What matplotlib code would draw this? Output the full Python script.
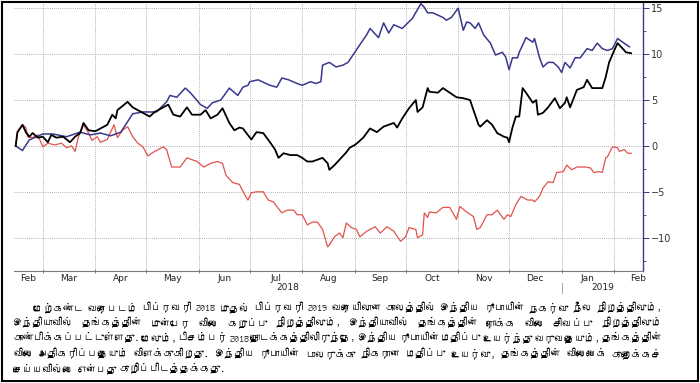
import matplotlib
matplotlib.use("Agg")
import matplotlib.pyplot as plt
from matplotlib import font_manager
from matplotlib.patches import Rectangle
from matplotlib.transforms import IdentityTransform
import pandas as pd

# x data are days counted from the first trading day shown
start = pd.Timestamp("2018-02-13")

# Indian rupee (blue)
rupee_days = [0, 4, 8, 16, 22, 30, 38, 44, 50, 56,
              62, 69, 75, 83, 89, 91, 95, 100, 103, 109,
              113, 116, 121, 126, 131, 134, 137, 138, 143, 150,
              154, 157, 161, 166, 169, 174, 177, 180, 181, 185,
              189, 193, 196, 200, 204, 207, 209, 211, 214, 217,
              220, 223, 228, 234, 239, 241, 243, 246, 252, 254,
              257, 261, 264, 266, 268, 271, 273, 276, 280, 283,
              287, 289, 291, 293, 296, 297, 301, 305, 306, 309,
              311, 314, 317, 320, 322, 324, 327, 330, 333, 337,
              340, 343, 346, 349, 352, 355, 358, 362]
rupee_vals = [0, -0.5, 0.65, 1.3, 1.3, 1.0, 1.5, 1.2, 1.4, 1.1,
              1.5, 3.5, 3.7, 3.7, 4.8, 5.5, 5.3, 6.3, 5.8, 4.5,
              4.1, 4.7, 5.0, 6.3, 5.5, 6.4, 6.6, 7.0, 7.2, 6.6,
              6.4, 7.4, 7.2, 6.8, 6.6, 7.0, 6.8, 7.0, 8.8, 9.1,
              8.6, 8.8, 9.1, 10.2, 11.3, 12.1, 12.8, 12.4, 11.8, 13.4,
              12.3, 13.2, 12.8, 13.9, 15.5, 15.1, 14.5, 14.5, 14.0, 13.7,
              14.0, 15.0, 12.6, 13.5, 13.4, 12.8, 13.4, 12.1, 11.2, 9.9,
              10.2, 9.7, 8.3, 9.6, 9.6, 10.2, 11.8, 11.3, 11.7, 9.6,
              8.6, 9.1, 9.1, 8.6, 8.0, 9.1, 8.5, 9.6, 9.6, 10.6,
              10.4, 11.2, 10.6, 10.4, 10.6, 11.7, 11.3, 10.8]

# gold futures price (black)
futures_days = [0, 1, 4, 6, 8, 10, 13, 16, 19, 21,
                24, 28, 32, 35, 38, 40, 43, 47, 50, 54,
                57, 59, 60, 66, 69, 72, 75, 79, 82, 86,
                90, 93, 97, 101, 104, 109, 112, 115, 119, 122,
                126, 129, 132, 134, 139, 142, 146, 150, 153, 155,
                158, 162, 166, 169, 172, 175, 178, 181, 184, 185,
                188, 191, 195, 197, 200, 202, 205, 209, 213, 217,
                223, 225, 228, 232, 236, 237, 240, 243, 244, 249,
                252, 256, 260, 264, 268, 270, 273, 274, 278, 281,
                284, 286, 288, 290, 291, 293, 295, 297, 299, 301,
                305, 307, 308, 311, 314, 318, 321, 324, 325, 327,
                331, 335, 337, 340, 346, 348, 350, 353, 355, 357,
                360, 363]
futures_vals = [0, 1.5, 2.3, 1.5, 1.0, 1.4, 0.9, 1.0, 0.4, 1.2,
                0.9, 1.0, 0.4, 1.0, 1.4, 2.5, 1.7, 1.6, 1.9, 2.3,
                3.4, 3.0, 3.9, 4.8, 4.2, 3.9, 3.6, 3.2, 3.7, 4.1,
                4.5, 3.4, 3.2, 4.2, 3.4, 3.4, 3.9, 3.0, 3.4, 4.1,
                2.5, 1.7, 2.0, 1.9, 0.7, 1.5, 1.4, 0.4, -0.4, -1.3,
                -0.8, -1.0, -1.0, -1.3, -1.7, -1.7, -1.5, -1.3, -1.9, -2.6,
                -2.1, -1.5, -0.7, -0.2, 0.1, 0.4, 0.9, 1.9, 1.5, 2.1,
                2.5, 2.0, 3.0, 4.1, 5.0, 3.7, 4.2, 6.3, 5.9, 5.8,
                6.3, 5.8, 5.3, 5.2, 5.0, 3.9, 2.3, 2.1, 2.8, 2.3,
                1.4, 1.2, 1.0, 0.9, 0.4, 2.0, 3.2, 3.2, 6.3, 5.8,
                4.7, 5.0, 3.4, 3.6, 4.2, 5.2, 4.1, 4.7, 5.3, 4.2,
                6.1, 6.4, 7.2, 6.3, 6.3, 7.5, 9.1, 10.4, 11.2, 10.8,
                10.2, 10.1]

# gold spot price (red)
spot_days = [0, 1, 4, 6, 7, 10, 13, 16, 19, 23,
             27, 30, 33, 35, 37, 40, 43, 45, 48, 50,
             54, 58, 60, 63, 66, 69, 72, 75, 78, 81,
             87, 89, 92, 97, 101, 107, 111, 115, 119, 122,
             124, 128, 132, 135, 137, 139, 142, 146, 149, 152,
             154, 157, 160, 164, 166, 169, 172, 175, 178, 181,
             184, 185, 188, 191, 193, 195, 198, 201, 203, 207,
             212, 215, 219, 223, 227, 230, 232, 236, 237, 240,
             241, 243, 244, 248, 252, 256, 260, 262, 266, 270,
             272, 274, 278, 281, 284, 286, 288, 290, 292, 295,
             298, 302, 305, 306, 309, 311, 314, 317, 319, 323,
             325, 328, 331, 336, 339, 341, 344, 346, 348, 349,
             352, 355, 356, 359, 361, 363]
spot_vals = [0, 1.4, 2.3, 2.0, 1.0, 0.9, 1.2, -0.1, 0.3, 0.1,
             0.3, -0.2, 0.0, -0.6, 1.0, 2.3, 1.4, 0.6, 1.0, 0.4,
             0.7, 2.3, 0.9, 1.7, 2.1, 1.0, 0.3, -0.1, -1.1, -0.7,
             -0.1, -0.4, -2.3, -2.3, -1.3, -1.7, -2.3, -1.9, -1.7, -1.9,
             -3.2, -4.0, -4.2, -5.3, -5.9, -5.1, -5.0, -5.0, -5.9, -6.1,
             -6.6, -7.3, -7.0, -7.0, -7.5, -7.5, -8.6, -8.3, -8.3, -9.1,
             -11.0, -10.8, -9.9, -9.5, -10.0, -8.4, -8.9, -9.1, -9.9, -9.3,
             -8.8, -9.5, -8.8, -9.3, -10.4, -9.9, -8.9, -9.1, -10.0, -9.7,
             -7.3, -7.8, -7.2, -7.3, -6.7, -6.7, -8.0, -6.6, -7.2, -7.7,
             -9.1, -8.9, -7.5, -7.5, -7.0, -7.5, -8.0, -7.5, -7.7, -6.4,
             -5.5, -5.9, -5.9, -6.1, -5.5, -4.6, -3.9, -4.0, -2.9, -2.8,
             -2.1, -2.6, -2.3, -2.3, -2.4, -2.9, -2.8, -2.9, -1.3, -1.2,
             -0.1, -0.2, -0.6, -0.4, -0.8, -0.8]

y_ticks = [-10, -5, 0, 5, 10, 15]
month_names = ["Feb", "Mar", "Apr", "May", "Jun", "Jul", "Aug",
               "Sep", "Oct", "Nov", "Dec", "Jan", "Feb"]
years = ["2018", "2019"]

caption_lines = [
    "மேற்கண்ட வரைபடம் பிப்ரவரி 2018 முதல் பிப்ரவரி 2019 வரையிலான காலத்தில் இந்திய ரூபாயின் நகர்வு நீல நிறத்திலும்,",
    "இந்தியாவில் தங்கத்தின் முன்பேர விலை கறுப்பு நிறத்திலும், இந்தியாவில் தங்கத்தின் ரொக்க விலை சிவப்பு நிறத்திலும்",
    "காண்பிக்கப்பட்டுள்ளது. மேலும், டிசம்பர் 2018 தொடக்கத்திலிருந்தே, இந்திய ரூபாயின் மதிப்பு உயர்ந்து வருவதையும், தங்கத்தின்",
    "விலை அதிகரிப்பதையும் விளக்குகிறது. இந்திய ரூபாயின் டாலருக்கு நிகரான மதிப்பு உயர்வு, தங்கத்தின் விலையைக் குறைக்கச்",
    "செய்யவில்லை என்பது குறிப்பிடத்தக்கது.",
]


def tamil_family():
    # look for any installed font that has Tamil letters
    try:
        from fontTools.ttLib import TTFont
    except ImportError:
        return "DejaVu Sans"
    for f in font_manager.fontManager.ttflist:
        try:
            tt = TTFont(f.fname, fontNumber=0, lazy=True)
            cmap = tt.getBestCmap()
            if cmap and 0x0BAE in cmap:
                return f.name
        except Exception:
            continue
    return "DejaVu Sans"


tfont = tamil_family()

W, H = 700, 383
fig = plt.figure(figsize=(7.0, 3.83), dpi=100)
fig.patch.set_facecolor("white")

# axes box in pixels: left 14, right 643, top 2, bottom 271
ax = fig.add_axes([14 / W, (H - 271) / H, (643 - 14) / W, (271 - 2) / H])

def to_dates(days):
    return start + pd.to_timedelta(days, unit="D")

ax.plot(to_dates(spot_days), spot_vals, color="#e0524c", lw=0.9)
ax.plot(to_dates(rupee_days), rupee_vals, color="#38388c", lw=1.1)
ax.plot(to_dates(futures_days), futures_vals, color="black", lw=1.3)

xmin = start - pd.Timedelta(days=1)
xmax = start + pd.Timedelta(days=370)
ax.set_xlim(xmin, xmax)
ax.set_ylim(-13.63, 15.68)

# month boundaries: ticks + vertical grid
month_starts = pd.date_range("2018-03-01", "2019-02-01", freq="MS")
ax.set_xticks(month_starts)
ax.set_xticklabels([])
ax.tick_params(axis="x", which="major", length=3, width=0.6, color="#777777",
               direction="inout")

# month labels sit in the middle of each month (visible part)
all_starts = [pd.Timestamp("2018-02-01")] + list(month_starts)
label_pos = []
for ms in all_starts:
    me = ms + pd.offsets.MonthBegin(1)
    mid = ms + pd.Timedelta(days=14)
    vis_mid = max(ms, xmin) + (min(me, xmax) - max(ms, xmin)) / 2
    label_pos.append(max(mid, vis_mid))
ax.set_xticks(label_pos, minor=True)
ax.set_xticklabels(month_names, minor=True)
ax.tick_params(axis="x", which="minor", length=0, labelsize=6.5, pad=2,
               labelcolor="#222222")

# year labels under the month labels and a small separator at Jan 1
jan = pd.Timestamp("2019-01-01")
xt = ax.get_xaxis_transform()
ax.text(xmin + (jan - xmin) / 2, -0.063, years[0], transform=xt, ha="center",
        va="center", fontsize=6.5, color="#222222")
ax.text(jan + (xmax - jan) / 2, -0.063, years[1], transform=xt, ha="center",
        va="center", fontsize=6.5, color="#222222")
ax.plot([jan, jan], [-0.045, -0.082], transform=xt, color="#999999", lw=0.6,
        clip_on=False)

# right-hand y axis
ax.yaxis.tick_right()
ax.set_yticks(y_ticks)
ax.set_yticks([-12.5, -7.5, -2.5, 2.5, 7.5, 12.5], minor=True)
ax.tick_params(axis="y", which="major", length=4, width=0.7, color="#38388c",
               labelsize=7, labelcolor="#333333", pad=2)
ax.tick_params(axis="y", which="minor", length=2, width=0.6, color="#38388c")

ax.grid(True, which="major", color="#999999", linestyle=(0, (1, 1.5)), lw=0.6)
ax.set_axisbelow(True)

for s in ["left", "top"]:
    ax.spines[s].set_visible(False)
ax.spines["right"].set_color("#38388c")
ax.spines["right"].set_linewidth(1.0)
ax.spines["bottom"].set_color("#777777")
ax.spines["bottom"].set_linewidth(0.8)

# frame around the whole picture
fig.add_artist(Rectangle((1.5 / W, 2 / H), 696 / W, 379.5 / H,
                         transform=fig.transFigure, fill=False,
                         edgecolor="black", lw=1.5))

# caption, justified line by line
fig.canvas.draw()
renderer = fig.canvas.get_renderer()
right_edge = 662
base_size = 9.0
min_gap = 0.2


def line_words(i, size):
    parts, widths = [], []
    base = H - (311 + 15.3 * i)
    for w in caption_lines[i].split(" "):
        t = fig.text(0, base, w, fontsize=size, family=[tfont, "DejaVu Sans"],
                     transform=IdentityTransform(), va="baseline", ha="left",
                     color="black")
        parts.append(t)
        widths.append(t.get_window_extent(renderer).width)
    return parts, widths


# find one font size that lets every line fit with normal spaces
scale = 1.0
for i in range(len(caption_lines)):
    parts, widths = line_words(i, base_size)
    left = 33 if i == 0 else 13
    need = sum(widths) + min_gap * base_size * (len(widths) - 1)
    scale = min(scale, (right_edge - left) / need)
    for t in parts:
        t.remove()
cap_size = base_size * scale

for i in range(len(caption_lines)):
    parts, widths = line_words(i, cap_size)
    left = 33 if i == 0 else 13
    if i < len(caption_lines) - 1 and len(parts) > 1:
        gap = (right_edge - left - sum(widths)) / (len(parts) - 1)
    else:
        gap = 0.35 * cap_size
    x = left
    for t, wd in zip(parts, widths):
        t.set_x(x)
        x += wd + gap

fig.savefig("out.png", dpi=100)
